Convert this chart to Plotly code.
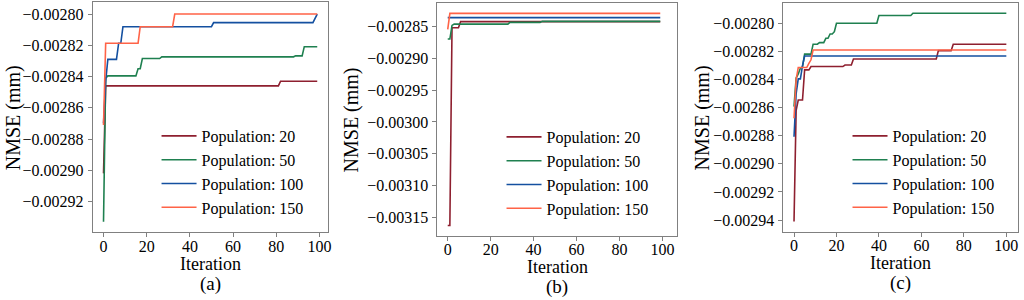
import plotly.graph_objects as go

# ---------------- data ----------------
series_names = ["Population: 20", "Population: 50", "Population: 100", "Population: 150"]
series_colors = ["#8e1f2f", "#1f8050", "#1450a0", "#ff6347"]

# Panel (a)
a_pop20_x = [0, 1, 81, 82, 99]
a_pop20_y = [-0.002902, -0.002846, -0.002846, -0.002843, -0.002843]
a_pop50_x = [0, 1, 2, 15, 16, 17, 18, 26, 27, 88, 89, 92, 93, 99]
a_pop50_y = [-0.002933, -0.002841, -0.0028396, -0.0028396, -0.002835, -0.002835, -0.0028285,
             -0.0028285, -0.0028274, -0.0028274, -0.0028268, -0.0028268, -0.0028209, -0.0028209]
a_pop100_x = [0, 1, 2, 6, 7, 8, 9, 50, 51, 97, 99]
a_pop100_y = [-0.00287, -0.002843, -0.002829, -0.002829, -0.0028187, -0.0028187, -0.0028081,
              -0.0028081, -0.0028055, -0.0028055, -0.0028]
a_pop150_x = [0, 1, 16, 17, 32, 33, 99]
a_pop150_y = [-0.002871, -0.0028187, -0.0028187, -0.0028081, -0.0028081, -0.0028, -0.0028]

# Panel (b)
b_pop20_x = [0, 1, 2, 5, 6, 99]
b_pop20_y = [-0.003163, -0.003163, -0.0028516, -0.0028516, -0.0028421, -0.0028421]
b_pop50_x = [0, 1, 2, 3, 28, 29, 43, 44, 99]
b_pop50_y = [-0.0028694, -0.0028694, -0.002848, -0.002846, -0.002846, -0.0028432, -0.0028432,
             -0.0028416, -0.0028416]
b_pop100_x = [0, 99]
b_pop100_y = [-0.0028358, -0.0028358]
b_pop150_x = [0, 1, 99]
b_pop150_y = [-0.0028542, -0.002829, -0.002829]

# Panel (c)
c_pop20_x = [0, 1, 2, 4, 5, 7, 8, 23, 24, 27, 28, 67, 68, 74, 75, 100]
c_pop20_y = [-0.002941, -0.002862, -0.0028546, -0.0028546, -0.0028332, -0.0028332, -0.0028308,
             -0.0028308, -0.0028297, -0.0028297, -0.0028254, -0.0028254, -0.0028195, -0.0028195,
             -0.0028149, -0.0028149]
c_pop50_x = [0, 1, 2, 3, 4, 5, 8, 9, 11, 12, 14, 15, 16, 17, 18, 19, 20, 39, 40, 55, 56, 100]
c_pop50_y = [-0.0028593, -0.002839, -0.002836, -0.002832, -0.002831, -0.002822, -0.002822,
             -0.0028149, -0.0028149, -0.0028138, -0.0028138, -0.0028107, -0.0028107, -0.0028076,
             -0.0028076, -0.002806, -0.0028, -0.0028, -0.0027945, -0.0027945, -0.0027929, -0.0027929]
c_pop100_x = [0, 1, 2, 3, 4, 5, 100]
c_pop100_y = [-0.0028807, -0.00285, -0.0028396, -0.0028396, -0.0028301, -0.0028233, -0.0028233]
c_pop150_x = [0, 1, 2, 6, 7, 8, 9, 100]
c_pop150_y = [-0.0028676, -0.00284, -0.0028315, -0.0028315, -0.0028285, -0.002826, -0.002819, -0.002819]

a_yticks = [-0.00292, -0.00290, -0.00288, -0.00286, -0.00284, -0.00282, -0.00280]
b_yticks = [-0.00315, -0.00310, -0.00305, -0.00300, -0.00295, -0.00290, -0.00285]
c_yticks = [-0.00294, -0.00292, -0.00290, -0.00288, -0.00286, -0.00284, -0.00282, -0.00280]
x_ticks = [0, 20, 40, 60, 80, 100]
panel_labels = ["(a)", "(b)", "(c)"]
x_title = "Iteration"
y_title = "NMSE (mm)"

# ---------------- layout geometry (page pixels) ----------------
W, H = 1024, 300
FONT = "Liberation Serif, Times New Roman, serif"

def px(v):
    return v / W

def py(v):
    return 1 - v / H

panels = [
    dict(x0=93, x1=329, y0=2.3, y1=232.3, xr=[-5.0, 104.0], yr=[-0.0029397, -0.0027925],
         yt=a_yticks, leg=(157, 119),
         data=[(a_pop20_x, a_pop20_y), (a_pop50_x, a_pop50_y), (a_pop100_x, a_pop100_y), (a_pop150_x, a_pop150_y)]),
    dict(x0=438.7, x1=679, y0=3, y1=236, xr=[-4.8, 106.8], yr=[-0.0031796, -0.0028127],
         yt=b_yticks, leg=(503, 120),
         data=[(b_pop20_x, b_pop20_y), (b_pop50_x, b_pop50_y), (b_pop100_x, b_pop100_y), (b_pop150_x, b_pop150_y)]),
    dict(x0=785.7, x1=1021, y0=3, y1=232, xr=[-5.0, 105.5], yr=[-0.0029485, -0.0027856],
         yt=c_yticks, leg=(850, 119),
         data=[(c_pop20_x, c_pop20_y), (c_pop50_x, c_pop50_y), (c_pop100_x, c_pop100_y), (c_pop150_x, c_pop150_y)]),
]
ytitle_x = [13, 353, 705]
xtitle_y = [264, 267, 263]
plabel_y = [284, 287, 283]

fig = go.Figure()
annotations = []
layout = dict(width=W, height=H, margin=dict(l=0, r=0, t=0, b=0),
              paper_bgcolor="white", plot_bgcolor="white",
              font=dict(family=FONT, size=16, color="black"), showlegend=True)

for i, p in enumerate(panels):
    sfx = "" if i == 0 else str(i + 1)
    legname = "legend" + sfx
    for j, (xs, ys) in enumerate(p["data"]):
        fig.add_trace(go.Scatter(
            x=xs, y=ys, mode="lines", name=series_names[j],
            line=dict(color=series_colors[j], width=1.6),
            xaxis="x" + sfx, yaxis="y" + sfx, legend=legname,
            legendgroup=f"g{i}{j}", hoverinfo="skip"))
    axcommon = dict(showline=True, mirror=True, linecolor="#808080", linewidth=1,
                    ticks="outside", ticklen=4, tickcolor="#808080", showgrid=False,
                    zeroline=False, tickfont=dict(family=FONT, size=16, color="black"))
    layout["xaxis" + sfx] = dict(domain=[px(p["x0"]), px(p["x1"])], range=p["xr"],
                                 tickvals=x_ticks, anchor="y" + sfx, ticklabelstandoff=-5,
                                 **axcommon)
    layout["yaxis" + sfx] = dict(domain=[py(p["y1"]), py(p["y0"])], range=p["yr"],
                                 tickvals=p["yt"], tickformat=".5f", anchor="x" + sfx,
                                 ticklabelstandoff=1, **axcommon)
    layout[legname] = dict(x=px(p["leg"][0]), y=py(p["leg"][1]), xanchor="left", yanchor="top",
                           bgcolor="rgba(0,0,0,0)", borderwidth=0, tracegroupgap=0, itemwidth=35,
                           font=dict(family=FONT, size=16, color="black"))
    cx = px((p["x0"] + p["x1"]) / 2)
    annotations.append(dict(text=x_title, x=cx, y=py(xtitle_y[i]), xref="paper", yref="paper",
                            showarrow=False, xanchor="center", yanchor="middle",
                            font=dict(family=FONT, size=18, color="black")))
    annotations.append(dict(text=panel_labels[i], x=cx, y=py(plabel_y[i]), xref="paper", yref="paper",
                            showarrow=False, xanchor="center", yanchor="middle",
                            font=dict(family=FONT, size=19, color="black")))
    annotations.append(dict(text=y_title, x=px(ytitle_x[i]), y=py((p["y0"] + p["y1"]) / 2),
                            xref="paper", yref="paper",
                            showarrow=False, xanchor="center", yanchor="middle", textangle=-90,
                            font=dict(family=FONT, size=20, color="black")))

layout["annotations"] = annotations
fig.update_layout(**layout)
fig.write_html("out.html", config={"displayModeBar": False, "staticPlot": True},
               post_script="document.body.style.margin='0';document.body.style.padding='0';")
